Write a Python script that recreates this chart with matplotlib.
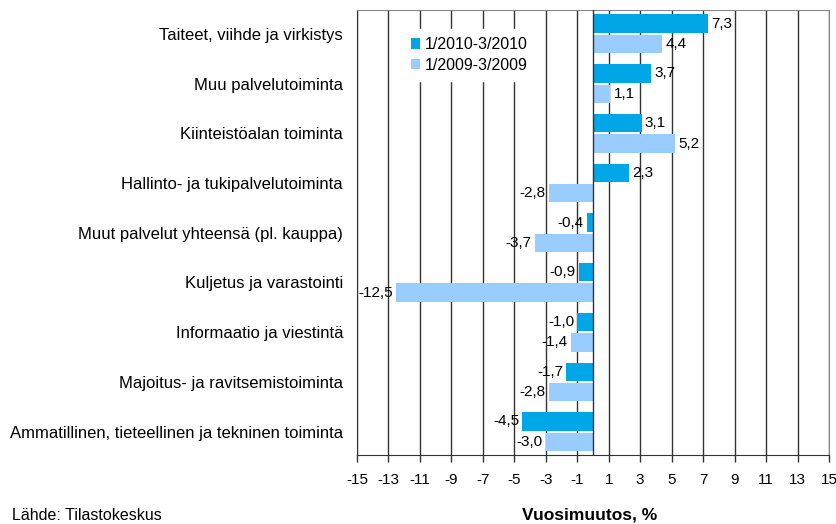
import numpy as np
import matplotlib
matplotlib.use('Agg')
import matplotlib.pyplot as plt

plt.rcParams['font.family'] = ['Liberation Sans', 'DejaVu Sans']

categories = ['Taiteet, viihde ja virkistys',
              'Muu palvelutoiminta',
              'Kiinteistöalan toiminta',
              'Hallinto- ja tukipalvelutoiminta',
              'Muut palvelut yhteensä (pl. kauppa)',
              'Kuljetus ja varastointi',
              'Informaatio ja viestintä',
              'Majoitus- ja ravitsemistoiminta',
              'Ammatillinen, tieteellinen ja tekninen toiminta']
vals_2010 = [7.3, 3.7, 3.1, 2.3, -0.4, -0.9, -1.0, -1.7, -4.5]
vals_2009 = [4.4, 1.1, 5.2, -2.8, -3.7, -12.5, -1.4, -2.8, -3.0]
series_names = ['1/2010-3/2010', '1/2009-3/2009']
xticks = list(range(-15, 16, 2))

c_dark = '#00A6E6'
c_light = '#99CCFF'

fig = plt.figure(figsize=(8.37, 5.24), dpi=100)
ax = fig.add_axes([357/837, 1-455/524, (829-357)/837, (455-10)/524])

n = len(categories)
y = np.arange(n)[::-1]
h = 0.37
ax.barh(y + 0.205, vals_2010, height=h, color=c_dark, label=series_names[0], zorder=3)
ax.barh(y - 0.205, vals_2009, height=h, color=c_light, label=series_names[1], zorder=3)

def fmt(v):
    return f'{v:.1f}'.replace('.', ',')

for yy, v in zip(y + 0.205, vals_2010):
    ax.text(v + (0.2 if v >= 0 else -0.2), yy, fmt(v), ha='left' if v >= 0 else 'right',
            va='center', fontsize=11, zorder=5)
for yy, v in zip(y - 0.205, vals_2009):
    ax.text(v + (0.2 if v >= 0 else -0.2), yy, fmt(v), ha='left' if v >= 0 else 'right',
            va='center', fontsize=11, zorder=5)

ax.set_xlim(-15, 15)
ax.set_ylim(-0.47, n - 0.52)
ax.set_xticks(xticks)
ax.set_xticklabels([str(t) for t in xticks], fontsize=11)
ax.set_yticks(y)
ax.set_yticklabels(categories, fontsize=12)
ax.tick_params(axis='y', length=0, pad=10)
ax.tick_params(axis='x', length=5, width=1, color='#333333', pad=8)
ax.grid(axis='x', color='#333333', linewidth=1, zorder=1)
ax.axvline(0, color='#333333', linewidth=1, zorder=4)
for s in ['top', 'right']:
    ax.spines[s].set_color('#888888')
for s in ['left', 'bottom']:
    ax.spines[s].set_color('#333333')

leg = ax.legend(loc='upper left', bbox_to_anchor=(0.08, 0.975), frameon=True, fancybox=False,
                edgecolor='white', framealpha=1, fontsize=11.5, handlelength=0.6,
                handleheight=0.6, handletextpad=0.3, borderpad=0.5, labelspacing=0.35)
leg.set_zorder(2)

fig.text(590/837, 1-515/524, 'Vuosimuutos, %', ha='center', va='center',
         fontsize=12.5, fontweight='bold')
fig.text(12/837, 1-515/524, 'Lähde: Tilastokeskus', ha='left', va='center', fontsize=11.5)

fig.savefig('out.png', dpi=100)
